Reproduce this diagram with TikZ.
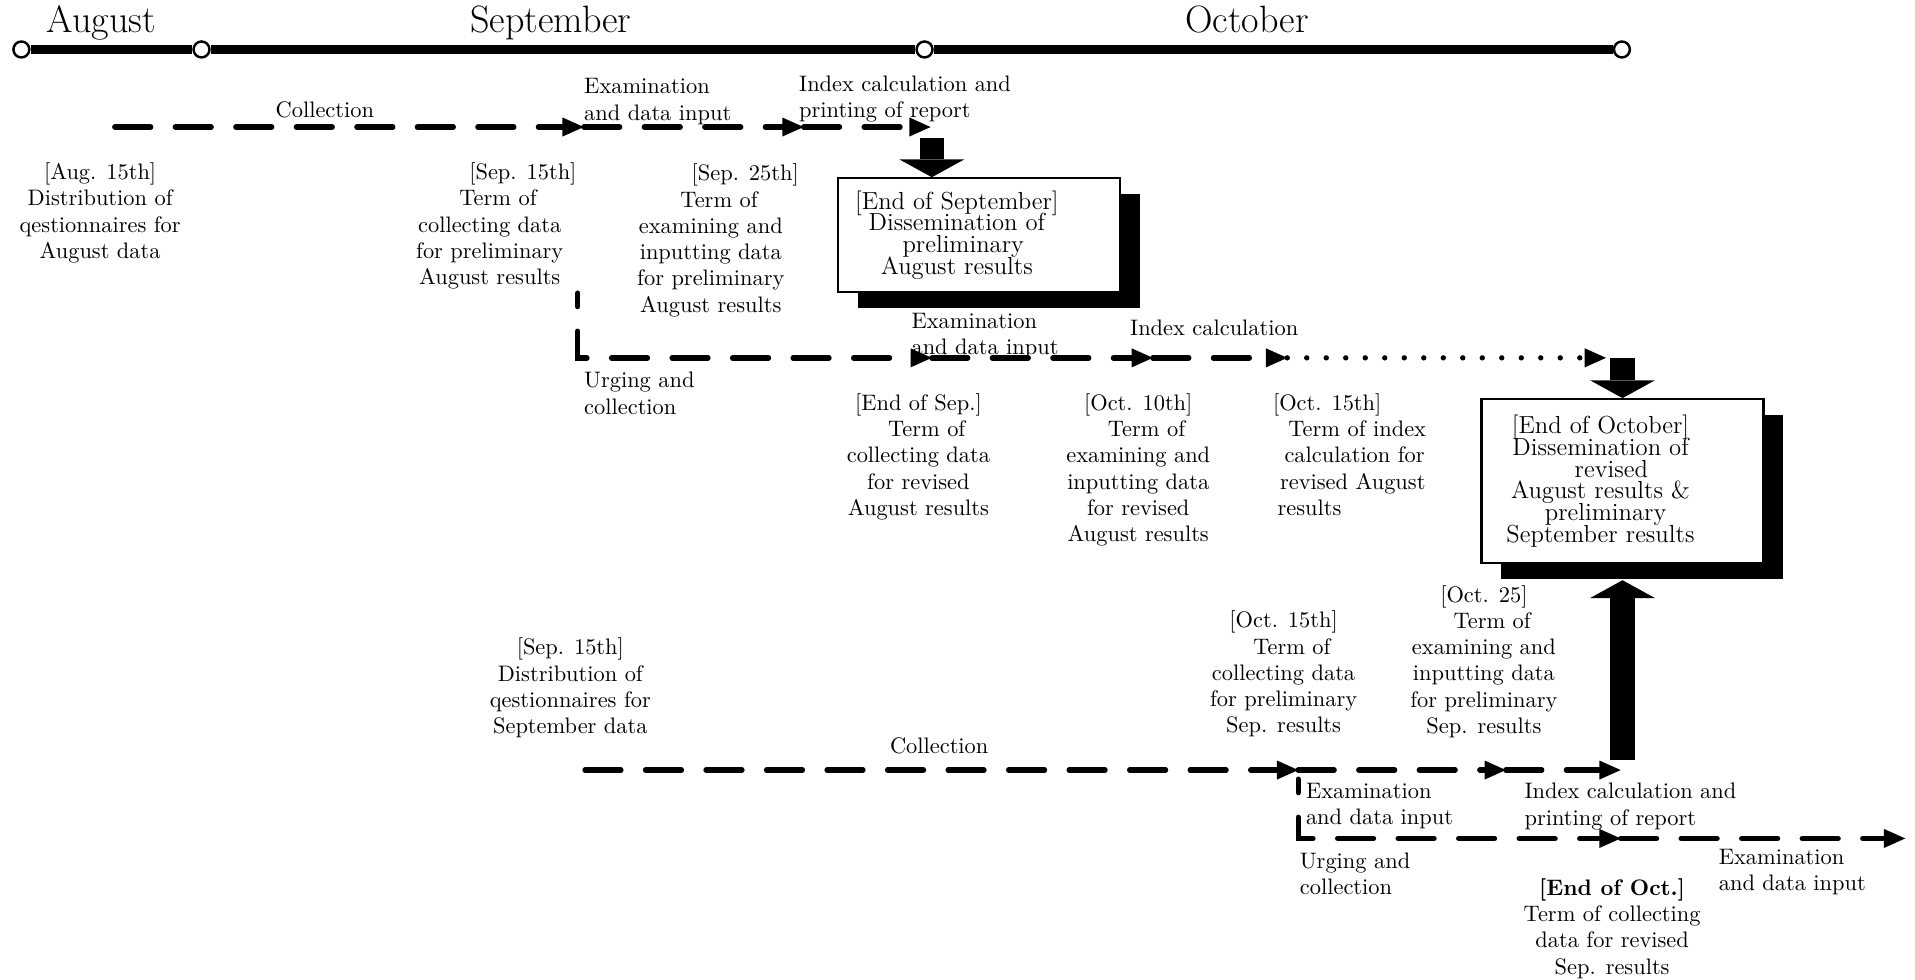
\documentclass[tikz,border=0pt]{standalone}
\usepackage{fontspec}
\usetikzlibrary{arrows.meta, positioning, calc, shadows}
\newcommand{\nudge}[2]{\makebox[0pt]{\hspace*{#1}#2\hspace*{-#1}}}
\newcommand{\tightlines}{\lineskiplimit -10pt\relax}
\tikzset{
  month/.style={font=\fontsize{17}{20}\selectfont, anchor=base, inner sep=0pt},
  tick/.style={circle, draw, fill=white, line width=1.1pt, minimum size=0.25cm, inner sep=0pt},
  timeline/.style={line width=4pt},
  flow/.style={line width=2.4pt, line cap=round, dash pattern=on 16pt off 11pt,
    -{Triangle[length=9.5pt, width=8.5pt, line width=0pt]}},
  dotflow/.style={flow, dash pattern=on 0pt off 8.7pt},
  bigarrow/.style={line width=0.38cm, -{Triangle[length=0.28cm, width=1.02cm, line width=0pt]}},
  note/.style={align=center, anchor=north, inner sep=0pt},
  tag/.style={align=left, anchor=north west, inner sep=0pt},
  single/.style={anchor=base, inner sep=0pt},
  result/.style={draw, line width=1pt, fill=white, minimum width=4.42cm,
    drop shadow={shadow xshift=0.31cm, shadow yshift=-0.25cm, fill=black, opacity=1}},
  boxtext/.style={align=center, inner sep=0pt, font={\fontsize{11}{9.7}\selectfont\tightlines}},
}

\begin{document}
\begin{tikzpicture}[x=0.01915cm, y=-0.01915cm, font=\fontsize{10}{11.7}\selectfont]
  \useasboundingbox (0,0) rectangle (1568,802);
  % time axis
  \foreach \i/\x in {0/17.5, 1/165, 2/757, 3/1328}
    \node[tick] (t\i) at (\x,40.5) {};
  \draw[timeline] (t0) -- (t1);
  \draw[timeline] (t1) -- (t2);
  \draw[timeline] (t2) -- (t3);
  \node[month] (mAug) at (83,27) {August};
  \node[month] (mSep) at (451,27) {September};
  \node[month] (mOct) at (1021,27) {October};

  % preliminary August results
  \coordinate (r1s) at (94,104);
  \coordinate (r1a) at (478,104);
  \coordinate (r1b) at (658,104);
  \coordinate (r1c) at (762,104);
  \draw[flow] (r1s) -- (r1a);
  \draw[flow] (r1a) -- (r1b);
  \draw[flow] (r1b) -- (r1c);
  \node[single] (col1) at (266,96) {Collection};
  \node[tag] (exa1) at (478,64) {Examination\\and data input};
  \node[tag] (idx1) at (654,62) {Index calculation and\\printing of report};
  \node[note] (n1) at (82,133) {[Aug. 15th]\\Distribution of\\qestionnaires for\\August data};
  \node[note] (n2) at (401,133) {\nudge{0.52cm}{[Sep. 15th]}\\\nudge{0.13cm}{Term of}\\collecting data\\for preliminary\\August results};
  \node[note] (n3) at (582,134) {\nudge{0.54cm}{[Sep. 25th]}\\\nudge{0.13cm}{Term of}\\examining and\\inputting data\\for preliminary\\August results};

  \node[result, minimum height=1.78cm] (box1) at (801.5,192.5) {};
  \node[boxtext] (box1t) at ([xshift=-0.345cm]box1.center) {[End of September]\\Dissemination of\\\nudge{0.1cm}{preliminary}\\August results};
  \coordinate (d1) at (763,113);
  \draw[bigarrow] (d1) -- (d1 |- box1.north);

  % revised August results
  \coordinate (r2v) at (473,240);
  \coordinate (r2a) at (763,293);
  \coordinate (r2b) at (944,293);
  \coordinate (r2c) at (1054,293);
  \coordinate (r2d) at (1315,293);
  \draw[flow, dash phase=10pt] (r2v) |- (r2a);
  \draw[flow] (r2a) -- (r2b);
  \draw[flow] (r2b) -- (r2c);
  \draw[dotflow] (r2c) -- (r2d);
  \node[tag] (urg1) at (478,304.5) {Urging and\\collection};
  \node[tag] (exa2) at (746,256) {Examination\\and data input};
  \node[tag] (idx2) at (925,261.5) {Index calculation};
  \node[note] (n4) at (752,322) {[End of Sep.]\\\nudge{0.13cm}{Term of}\\collecting data\\for revised\\August results};
  \node[note] (n5) at (932,322) {[Oct. 10th]\\\nudge{0.13cm}{Term of}\\examining and\\inputting data\\for revised\\August results};
  \node[tag] (n6) at (1042,322) {[Oct. 15th]\\\hspace*{0.24cm}Term of index\\\hspace*{0.18cm}calculation for\\\hspace*{0.11cm}revised August\\\hspace*{0.07cm}results};

  \node[result, minimum height=2.57cm] (box2) at (1328.5,394) {};
  \node[boxtext] (box2t) at ([xshift=-0.345cm]box2.center) {[End of October]\\Dissemination of\\\nudge{0.17cm}{revised}\\August results \&\\\nudge{0.08cm}{preliminary}\\September results};
  \coordinate (d2) at (1328.5,293);
  \draw[bigarrow] (d2) -- (box2.north);

  % preliminary September results
  \coordinate (r3s) at (479,630.5);
  \coordinate (r3a) at (1063,630.5);
  \coordinate (r3b) at (1233,630.5);
  \coordinate (r3c) at (1327,630.5);
  \draw[flow] (r3s) -- (r3a);
  \draw[flow] (r3a) -- (r3b);
  \draw[flow] (r3b) -- (r3c);
  \node[single] (col2) at (769,617) {Collection};
  \node[note] (n7) at (467,522) {[Sep. 15th]\\Distribution of\\qestionnaires for\\September data};
  \node[note] (n8) at (1051,500) {[Oct. 15th]\\\nudge{0.13cm}{Term of}\\collecting data\\for preliminary\\Sep. results};
  \node[note] (n9) at (1215,479) {[Oct. 25]\\\nudge{0.13cm}{Term of}\\examining and\\inputting data\\for preliminary\\Sep. results};
  \coordinate (u1) at (1328.5,622);
  \draw[bigarrow] (u1) -- ([yshift=-0.25cm]box2.south);

  % revised September results
  \coordinate (r4v) at (1063,638);
  \coordinate (r4a) at (1327,686.5);
  \coordinate (r4b) at (1560,686.5);
  \draw[flow, dash phase=10pt] (r4v) |- (r4a);
  \draw[flow] (r4a) -- (r4b);
  \node[tag] (exa3) at (1069,641) {Examination\\and data input};
  \node[tag] (idx3) at (1248,641) {Index calculation and\\printing of report};
  \node[tag] (urg2) at (1064,698) {Urging and\\collection};
  \node[tag] (exa4) at (1407,695) {Examination\\and data input};
  \node[note] (n10) at (1320,719) {\textbf{[End of Oct.]}\\Term of collecting\\data for revised\\Sep. results};
\end{tikzpicture}
\end{document}
